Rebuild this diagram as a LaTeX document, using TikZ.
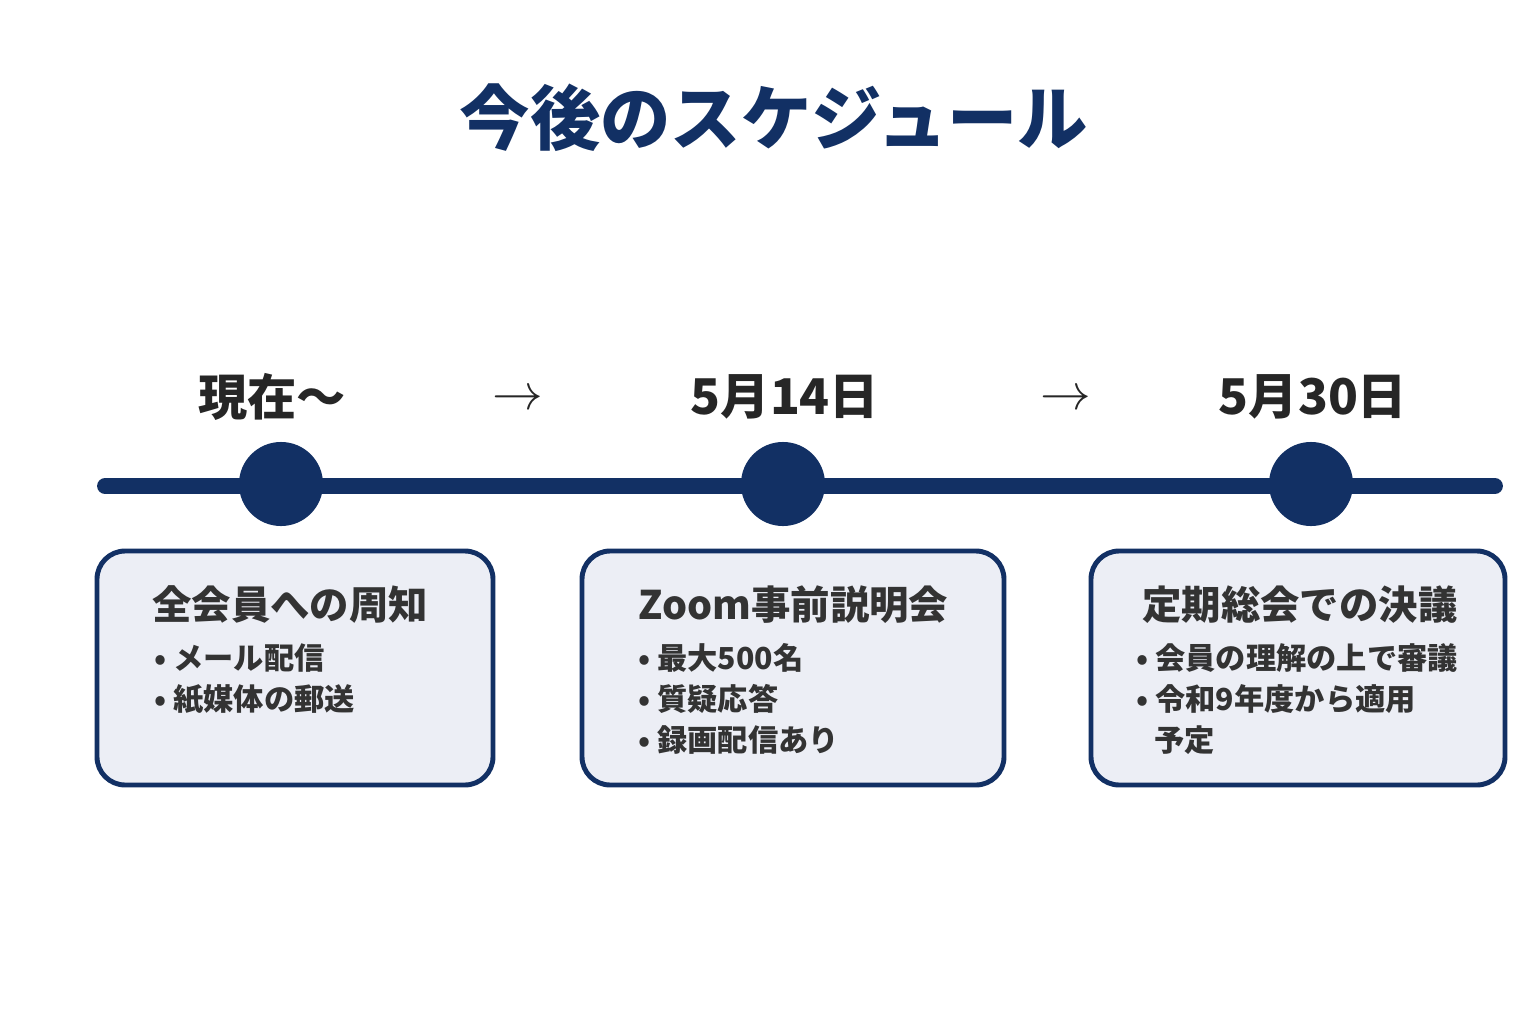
\documentclass[tikz,border=0pt]{standalone}
\usepackage{fontspec}
\setmainfont{Noto Sans CJK JP}
\usetikzlibrary{positioning}
\definecolor{navy}{HTML}{123064}
\definecolor{boxfill}{HTML}{ECEEF5}
\tikzset{
  event/.style={circle,fill=navy,minimum size=0.84cm,inner sep=0pt},
  date/.style={font=\fontsize{14}{16}\selectfont\bfseries,text=black!85},
  card/.style={draw=navy,line width=1.4pt,fill=boxfill,rounded corners=8pt},
  head/.style={anchor=west,font=\fontsize{11.2}{13}\selectfont\bfseries,text=black!80},
  item/.style={anchor=west,font=\fontsize{8.6}{10}\selectfont\bfseries,text=black!80,align=left}
}
\begin{document}
\begin{tikzpicture}[x=0.01cm,y=-0.01cm]
		\useasboundingbox[fill=white] (0,0) rectangle (1536,1024);
		\node[font=\fontsize{20}{24}\selectfont\bfseries,text=navy] (title) at (774,118) {今後のスケジュール};

		% timeline
		\coordinate (start) at (105,486);
		\coordinate (end) at (1495,486);
		\draw[navy,line width=4.5pt,line cap=round] (start) -- (end);
		\node[event] (ev1) at (281,484) {};
		\node[event] (ev2) at (783,484) {};
		\node[event] (ev3) at (1311,484) {};

		\node[date] (date1) at (272,397) {現在〜};
		\node[date] (date2) at (785,397) {5月14日};
		\node[date] (date3) at (1313,397) {5月30日};
		\node[date] (arr1) at (518,400) {$\rightarrow$};
		\node[date] (arr2) at (1066,400) {$\rightarrow$};

		% cards
		\draw[card] (97,551) rectangle (493,785);
		\draw[card] (582,551) rectangle (1004,785);
		\draw[card] (1091,551) rectangle (1505,785);

		\node[head] (head1) at (140,605) {全会員への周知};
		\node[item] at (142,658) {• メール配信};
		\node[item] at (142,699) {• 紙媒体の郵送};

		\node[head] (head2) at (626,605) {Zoom事前説明会};
		\node[item] at (626,658) {• 最大500名};
		\node[item] at (626,699) {• 質疑応答};
		\node[item] at (626,740) {• 録画配信あり};

		\node[head] (head3) at (1130,605) {定期総会での決議};
		\node[item] at (1124,658) {• 会員の理解の上で審議};
		\node[item] at (1124,699) {• 令和9年度から適用};
		\node[item] at (1142,740) {予定};
	\end{tikzpicture}
\end{document}
